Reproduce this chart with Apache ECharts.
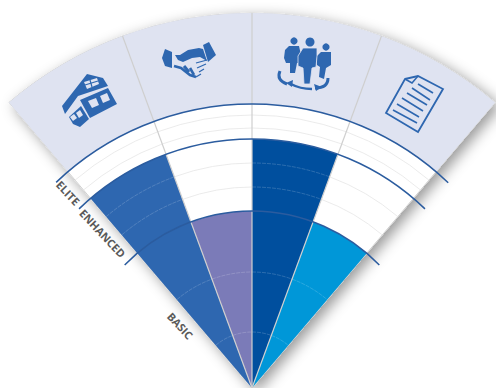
<!DOCTYPE html>
<html lang="en">
<head>
    <meta charset="UTF-8">
    <title>Service tiers</title>
    <script src="https://cdn.jsdelivr.net/npm/echarts@6/dist/echarts.min.js"></script>
    <style>
        html, body { margin: 0; padding: 0; background: #fff; }
        #chart { width: 496px; height: 388px; }
    </style>
</head>
<body>
<div id="chart"></div>
<script>
    // radius values (0 = apex, 375 = outer rim)
    var rimRadius = [375];
    var fanAngle = [-40.4, 40.4];
    var wedgeStart = [-40.4, -20.2, 0, 20.2];
    var wedgeEnd = [-20.2, 0, 20.2, 40.4];
    var wedgeValues = [249, 177, 249, 177];
    var wedgeColors = ['#2e67b0', '#7b7bb8', '#004f9e', '#0097d8'];
    var tierNames = ['BASIC', 'ENHANCED', 'ELITE'];
    var tierRadius = [177, 249, 284];
    var tierLineLeft = [-46, -44, -43.6];
    var tierLineRight = [46, 44, 43.7];
    var labelRadius = [95, 215, 268];
    var labelAngle = [-49, -44, -43.3];
    var gridRadius = [56, 116, 201, 225, 260, 273];
    var dividerAngles = [-20.2, 0, 20.2];

    var RAD = Math.PI / 180;

    function radiusOf(api, r, a) {
        var c = api.coord([0, a]);
        var p = api.coord([r, a]);
        return { cx: c[0], cy: c[1], r: Math.sqrt(Math.pow(p[0] - c[0], 2) + Math.pow(p[1] - c[1], 2)) };
    }

    function sector(api, r0, r1, a0, a1, style) {
        var o = radiusOf(api, r1, a0);
        var i = radiusOf(api, r0, a0);
        return {
            type: 'sector',
            shape: { cx: o.cx, cy: o.cy, r0: i.r, r: o.r, startAngle: (a0 - 90) * RAD, endAngle: (a1 - 90) * RAD, clockwise: true },
            style: style
        };
    }

    function arc(api, r, a0, a1, style) {
        var o = radiusOf(api, r, a0);
        return {
            type: 'arc',
            shape: { cx: o.cx, cy: o.cy, r: o.r, startAngle: (a0 - 90) * RAD, endAngle: (a1 - 90) * RAD, clockwise: true },
            style: style
        };
    }

    function layer(name, z, data, renderItem) {
        return {
            name: name, type: 'custom', coordinateSystem: 'polar', z: z, clip: false,
            silent: true, data: data, renderItem: renderItem
        };
    }

    var chart = echarts.init(document.getElementById('chart'), null, { renderer: 'svg' });
    chart.setOption({
        animation: false,
        backgroundColor: '#fff',
        polar: { center: [252, 388], radius: rimRadius[0] },
        angleAxis: { type: 'value', startAngle: 140, endAngle: 40, min: -50, max: 50, show: false },
        radiusAxis: { type: 'value', min: 0, max: rimRadius[0], show: false },
        series: [
            // white fan with drop shadow
            layer('fan', 1, [[rimRadius[0]]], function (params, api) {
                return sector(api, 0, api.value(0), fanAngle[0], fanAngle[1], {
                    fill: '#fff', stroke: '#d2d2d2', lineWidth: 1,
                    shadowColor: 'rgba(0,0,0,0.4)', shadowBlur: 14, shadowOffsetX: 5, shadowOffsetY: 4
                });
            }),
            // lavender icon band
            layer('band', 2, [[tierRadius[2], rimRadius[0]]], function (params, api) {
                return sector(api, api.value(0), api.value(1), fanAngle[0], fanAngle[1], { fill: '#dfe3f1', stroke: null });
            }),
            // coloured wedges
            layer('wedges', 3, wedgeValues.map(function (v, i) {
                return [v, wedgeStart[i], wedgeEnd[i]];
            }), function (params, api) {
                return sector(api, 0, api.value(0), api.value(1), api.value(2), { fill: wedgeColors[params.dataIndex] });
            }),
            // thin level arcs, light on the wedges and grey on the white part
            layer('grid', 4, gridRadius.reduce(function (list, r) {
                wedgeValues.forEach(function (v, i) { list.push([r, wedgeStart[i], wedgeEnd[i], v]); });
                return list;
            }, []), function (params, api) {
                var inside = api.value(0) < api.value(3);
                return arc(api, api.value(0), api.value(1), api.value(2), {
                    fill: null, lineWidth: 0.8,
                    stroke: inside ? 'rgba(255,255,255,0.22)' : '#e6e6e6',
                    lineDash: inside ? [4, 1] : null
                });
            }),
            // grey dividers
            layer('dividers', 5, dividerAngles.map(function (a) { return [rimRadius[0], a]; }), function (params, api) {
                var from = api.coord([0, api.value(1)]);
                var to = api.coord([api.value(0), api.value(1)]);
                return {
                    type: 'line',
                    shape: { x1: from[0], y1: from[1], x2: to[0], y2: to[1] },
                    style: { stroke: '#cfcfcf', lineWidth: 1.2 }
                };
            }),
            // blue tier lines, running past the fan
            layer('tiers', 6, tierRadius.map(function (r, i) {
                return [r, tierLineLeft[i], tierLineRight[i]];
            }), function (params, api) {
                return arc(api, api.value(0), api.value(1), api.value(2), {
                    fill: null, stroke: '#2b5c9f', lineWidth: 1.5
                });
            }),
            // tier names along the left edge
            layer('labels', 7, labelRadius.map(function (r, i) { return [r, labelAngle[i]]; }), function (params, api) {
                var p = api.coord([api.value(0), api.value(1)]);
                return {
                    type: 'text', x: p[0], y: p[1], rotation: -47 * RAD,
                    style: {
                        text: tierNames[params.dataIndex], fill: '#5a5a5a',
                        font: 'bold 11px "Open Sans"', align: 'center', verticalAlign: 'middle'
                    }
                };
            })
        ],
        graphic: { elements: [
            // house
            { type: 'polygon', z: 20, shape: { points: [[87,74],[103,78],[108,86],[78,96],[65,114],[62,106]] }, style: { fill: '#2e67b0' } },
            { type: 'polygon', z: 21, shape: { points: [[84,82],[97,78],[99,84],[87,89]] }, style: { fill: '#dfe3f1' } },
            { type: 'polyline', z: 22, shape: { points: [[85,85],[98,81]] }, style: { stroke: '#2e67b0', lineWidth: 1.2, fill: null } },
            { type: 'polyline', z: 22, shape: { points: [[90,80],[92,87]] }, style: { stroke: '#2e67b0', lineWidth: 1.2, fill: null } },
            { type: 'polygon', z: 20, shape: { points: [[80,100],[108,88],[117,104],[90,118]] }, style: { fill: '#2e67b0' } },
            { type: 'polygon', z: 21, shape: { points: [[88,101],[96,98],[99,105],[92,108]] }, style: { fill: '#dfe3f1' } },
            { type: 'polygon', z: 21, shape: { points: [[100,96],[107,93],[110,100],[103,103]] }, style: { fill: '#dfe3f1' } },
            { type: 'polygon', z: 20, shape: { points: [[69,117],[81,106],[89,119],[80,127],[73,124]] }, style: { fill: '#2e67b0' } },
            { type: 'polygon', z: 21, shape: { points: [[70,117],[74,114],[77,118],[73,121]] }, style: { fill: '#dfe3f1' } },
            { type: 'polygon', z: 21, shape: { points: [[76,113],[80,110],[83,115],[79,118]] }, style: { fill: '#dfe3f1' } },
            // handshake
            { type: 'polygon', z: 20, shape: { points: [[165,49],[172,52],[172,68],[165,66],[162,58]] }, style: { fill: '#2e67b0' } },
            { type: 'polygon', z: 20, shape: { points: [[203,45],[209,42],[216,55],[208,62]] }, style: { fill: '#2e67b0' } },
            { type: 'polygon', z: 20, shape: { points: [[175,55],[180,55],[188,50],[199,48],[203,49],[207,61],[200,57],[192,58],[183,62],[178,60]] }, style: { fill: '#2e67b0' } },
            { type: 'polyline', z: 21, shape: { points: [[174,66],[181,68],[190,75],[196,77]] }, style: { stroke: '#2e67b0', lineWidth: 2.6, fill: null } },
            { type: 'polyline', z: 21, shape: { points: [[184,66],[189,72]] }, style: { stroke: '#2e67b0', lineWidth: 3, fill: null } },
            { type: 'polyline', z: 21, shape: { points: [[190,68],[194,75]] }, style: { stroke: '#2e67b0', lineWidth: 2.6, fill: null } },
            { type: 'polyline', z: 21, shape: { points: [[196,63],[207,60]] }, style: { stroke: '#2e67b0', lineWidth: 1.2, fill: null } },
            { type: 'polyline', z: 21, shape: { points: [[197,68],[206,64]] }, style: { stroke: '#2e67b0', lineWidth: 1.2, fill: null } },
            { type: 'polyline', z: 21, shape: { points: [[199,72],[204,69]] }, style: { stroke: '#2e67b0', lineWidth: 1.2, fill: null } },
            { type: 'polyline', z: 21, shape: { points: [[196,77],[201,74]] }, style: { stroke: '#2e67b0', lineWidth: 1.2, fill: null } },
            // people
            { type: 'circle', z: 20, shape: { cx: 294, cy: 41, r: 3.6 }, style: { fill: '#2e67b0' } },
            { type: 'polygon', z: 20, shape: { points: [[289,46],[299,46],[301,55],[299,63],[297,63],[295,73],[290,73],[290,63],[286,63],[284,58],[285,50]] }, style: { fill: '#2e67b0' } },
            { type: 'circle', z: 20, shape: { cx: 326, cy: 47, r: 3.6 }, style: { fill: '#2e67b0' } },
            { type: 'polygon', z: 20, shape: { points: [[321,52],[331,52],[331,65],[326,68],[324,79],[319,77],[320,67],[317,65],[317,56]] }, style: { fill: '#2e67b0' } },
            { type: 'circle', z: 20, shape: { cx: 310, cy: 42, r: 4.5 }, style: { fill: '#2e67b0' } },
            { type: 'polygon', z: 21, shape: { points: [[303,48],[317,48],[317,56],[316,67],[312,68],[310,84],[304,84],[303,68],[298,66],[298,56]] }, style: { fill: '#2e67b0', stroke: '#dfe3f1', lineWidth: 0.8 } },
            { type: 'bezierCurve', z: 20, shape: { x1: 280, y1: 71, cpx1: 276, cpy1: 80, x2: 287, y2: 84 }, style: { fill: null, stroke: '#2e67b0', lineWidth: 3 } },
            { type: 'bezierCurve', z: 20, shape: { x1: 291, y1: 84, cpx1: 300, cpy1: 89, x2: 312, y2: 89 }, style: { fill: null, stroke: '#2e67b0', lineWidth: 2.4 } },
            { type: 'polygon', z: 20, shape: { points: [[286,83],[293,80],[292,87]] }, style: { fill: '#2e67b0' } },
            { type: 'bezierCurve', z: 20, shape: { x1: 315, y1: 88, cpx1: 328, cpy1: 88, x2: 328, y2: 78 }, style: { fill: null, stroke: '#2e67b0', lineWidth: 3 } },
            { type: 'polygon', z: 20, shape: { points: [[314,84],[322,87],[316,91]] }, style: { fill: '#2e67b0' } },
            // document
            { type: 'polygon', z: 20, shape: { points: [[405,79],[418,76],[443,89],[418,132],[386,113]] }, style: { fill: null, stroke: '#2e67b0', lineWidth: 1.8 } },
            { type: 'polyline', z: 20, shape: { points: [[405,79],[412,83],[418,76]] }, style: { fill: null, stroke: '#2e67b0', lineWidth: 1.5 } },
            { type: 'line', z: 20, shape: { x1: 418, y1: 84, x2: 433, y2: 93 }, style: { stroke: '#2e67b0', lineWidth: 1.6 } },
            { type: 'line', z: 20, shape: { x1: 412, y1: 88, x2: 430, y2: 100 }, style: { stroke: '#2e67b0', lineWidth: 1.6 } },
            { type: 'line', z: 20, shape: { x1: 407, y1: 93, x2: 427, y2: 105 }, style: { stroke: '#2e67b0', lineWidth: 1.6 } },
            { type: 'line', z: 20, shape: { x1: 402, y1: 98, x2: 423, y2: 111 }, style: { stroke: '#2e67b0', lineWidth: 1.6 } },
            { type: 'line', z: 20, shape: { x1: 397, y1: 104, x2: 419, y2: 117 }, style: { stroke: '#2e67b0', lineWidth: 1.6 } },
            { type: 'line', z: 20, shape: { x1: 393, y1: 110, x2: 417, y2: 123 }, style: { stroke: '#2e67b0', lineWidth: 1.6 } }
        ] }
    });
</script>
</body>
</html>
